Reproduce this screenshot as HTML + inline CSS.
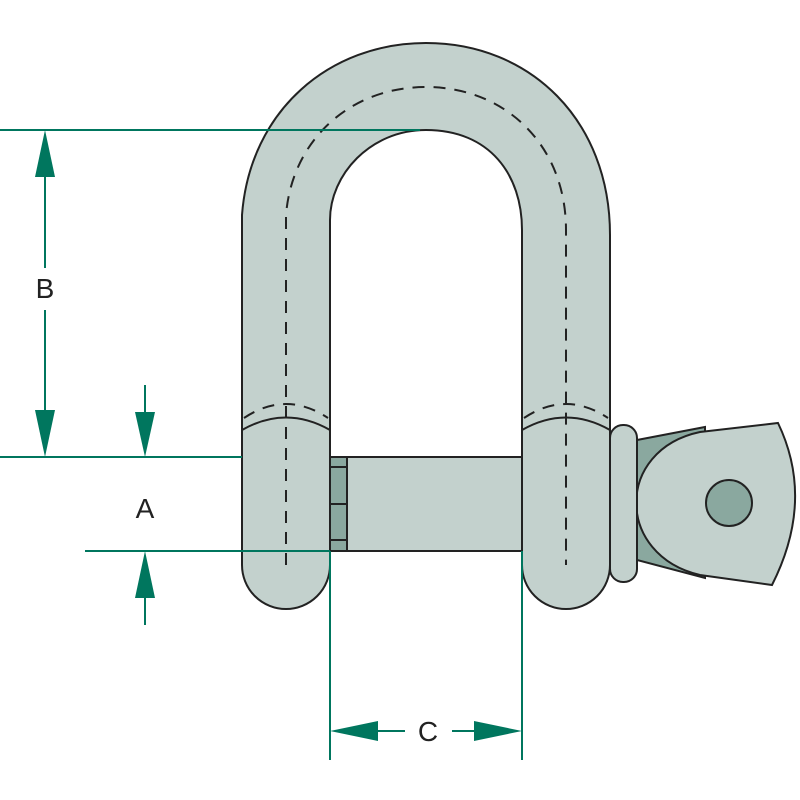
<!DOCTYPE html>
<html><head><style>body{margin:0;background:#fff}svg{display:block}</style></head><body>
<svg width="800" height="800" viewBox="0 0 800 800" xmlns="http://www.w3.org/2000/svg">
<g stroke="#222" stroke-width="2" fill="#c3d1cd">
<path d="M242,565 L242,215 C250,110 330,43 426,43 C530,43 610,120 610,235 L610,565 A44,44 0 0 1 522,565 L522,230 C522,175 490,130 426,130 C370,130 330,175 330,220 L330,565 A44,44 0 0 1 242,565 Z"/>
<rect x="330" y="457" width="192" height="94"/>
<rect x="330" y="457" width="17" height="94" fill="#8aa89f"/>
<line x1="330" y1="467" x2="347" y2="467"/>
<line x1="330" y1="504" x2="347" y2="504"/>
<line x1="330" y1="540" x2="347" y2="540"/>
<path d="M242,430 Q286,405 330,430" fill="none"/>
<path d="M522,430 Q566,405 610,430" fill="none"/>
<path d="M637,440 L705,427 L705,578 L637,560 Z" fill="#8aa89f"/>
<path d="M700,432 L778,423 Q815,500 772,585 L700,575 C615,555 615,450 700,432 Z"/>
<circle cx="729" cy="503" r="23" fill="#8aa89f"/>
<rect x="610" y="425" width="27" height="157" rx="13"/>
</g>
<g stroke="#222" stroke-width="2" fill="none" stroke-dasharray="12,9">
<path d="M286,565 L286,215 C292,140 350,87 426,87 C505,87 566,145 566,230 L566,565"/>
<path d="M244,418 Q286,390 328,418"/>
<path d="M524,418 Q566,390 608,418"/>
</g>
<g stroke="#00765e" stroke-width="2" fill="none">
<line x1="0" y1="130" x2="420" y2="130"/>
<line x1="0" y1="457" x2="242" y2="457"/>
<line x1="85" y1="551" x2="330" y2="551"/>
<line x1="45" y1="170" x2="45" y2="268"/>
<line x1="45" y1="310" x2="45" y2="420"/>
<line x1="145" y1="385" x2="145" y2="420"/>
<line x1="145" y1="590" x2="145" y2="625"/>
<line x1="330" y1="551" x2="330" y2="760"/>
<line x1="522" y1="551" x2="522" y2="760"/>
<line x1="370" y1="731" x2="405" y2="731"/>
<line x1="452" y1="731" x2="485" y2="731"/>
</g>
<g fill="#00765e">
<polygon points="45,130 35,177 55,177"/>
<polygon points="45,457 35,410 55,410"/>
<polygon points="145,457 135,412 155,412"/>
<polygon points="145,551 135,598 155,598"/>
<polygon points="330,731 378,721 378,741"/>
<polygon points="522,731 474,721 474,741"/>
</g>
<g font-family="Liberation Sans, sans-serif" font-size="28" fill="#222" text-anchor="middle">
<text x="45" y="298">B</text>
<text x="145" y="518">A</text>
<text x="428" y="741">C</text>
</g>
</svg>
</body></html>
